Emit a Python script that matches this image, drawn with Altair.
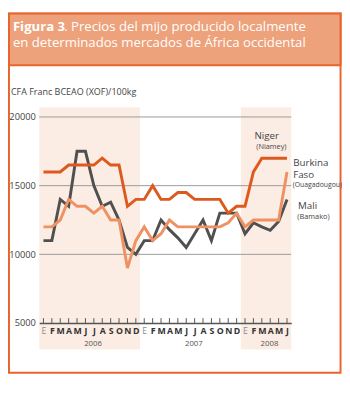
import json
import pandas as pd
import altair as alt

# ---- data ----
MONTHS = ["E", "F", "M", "A", "M", "J", "J", "A", "S", "O", "N", "D"]
YEARS = ["2006", "2007", "2008"]
YEAR_MONTHS = [12, 12, 6]
SHADED = ["2006", "2008"]

NIGER = [16000, 16000, 16000, 16500, 16500, 16500, 16500, 17000, 16500, 16500, 13500, 14000,
         14000, 15000, 14000, 14000, 14500, 14500, 14000, 14000, 14000, 14000, 13000, 13500,
         13500, 16000, 17000, 17000, 17000, 17000]
BURKINA = [12000, 12000, 12500, 14000, 13500, 13500, 13000, 13500, 12500, 12500, 9000, 11000,
           12000, 11000, 11500, 12500, 12000, 12000, 12000, 12000, 12000, 12000, 12300, 13000,
           12000, 12500, 12500, 12500, 12500, 16000]
MALI = [11000, 11000, 14000, 13500, 17500, 17500, 15000, 13500, 13800, 12500, 10500, 10000,
        11000, 11000, 12500, 11800, 11200, 10500, 11500, 12500, 11000, 13000, 13000, 13000,
        11500, 12300, 12000, 11750, 12400, 14000]

Y_TICKS = [5000, 10000, 15000, 20000]
GRID = [10000, 15000, 20000]

TITLE_BOLD = "Figura 3"
TITLE_1 = ". Precios del mijo producido localmente"
TITLE_2 = "en determinados mercados de África occidental"
Y_TITLE = "CFA Franc BCEAO (XOF)/100kg"

# ---- derived tables ----
n = sum(YEAR_MONTHS)
lines = pd.DataFrame({"m": list(range(n)), "niger": NIGER, "burkina": BURKINA, "mali": MALI})

starts = []
s = 0
for k in YEAR_MONTHS:
    starts.append(s)
    s += k
years_df = pd.DataFrame({
    "year": YEARS,
    "s": [st - 0.5 for st in starts],
    "e": [st + k - 0.5 for st, k in zip(starts, YEAR_MONTHS)],
    "mid": [st + (k - 1) / 2 for st, k in zip(starts, YEAR_MONTHS)],
})
bands_df = years_df[years_df["year"].isin(SHADED)]
grid_df = pd.DataFrame({"g": GRID})
one = pd.DataFrame({"a": [0]})

W, H = 258, 211
FONT = "Open Sans"

x_scale = alt.Scale(domain=[-0.5, n - 0.5], nice=False, zero=False)
y_scale = alt.Scale(domain=[5000, 20000], nice=False, zero=False)

x_axis = alt.Axis(
    values=list(range(n)),
    labelExpr=f"{json.dumps(MONTHS)}[datum.value % 12]",
    domainColor="#555555", domainWidth=1.5, ticks=False, grid=False,
    labelPadding=4, labelFont=FONT, labelFontSize=9,
    labelFontWeight={"condition": {"test": "datum.value % 12 == 0", "value": "normal"}, "value": "bold"},
    labelColor={"condition": {"test": "datum.value % 12 == 0", "value": "#8c8c8c"}, "value": "#333333"},
    labelOverlap=False, labelFlush=False, title=None, zindex=1,
)
y_axis = alt.Axis(
    values=Y_TICKS, format="d", domain=False, ticks=False, grid=False,
    labelPadding=4, labelFont=FONT, labelFontSize=9.5, labelColor="#444444", title=None,
)

base = alt.Chart(lines)

# decorations: header and frame
header = alt.Chart(one).mark_rect(fill="#EDA27B").encode(
    x=alt.value(-32), x2=alt.value(310), y=alt.value(-107), y2=alt.value(-53))
frame = alt.Chart(one).mark_rect(fillOpacity=0, stroke="#E8642C", strokeWidth=2).encode(
    x=alt.value(-31), x2=alt.value(308.5), y=alt.value(-106), y2=alt.value(262))
header_line = alt.Chart(one).mark_rule(stroke="#E8642C", strokeWidth=2).encode(
    x=alt.value(-31), x2=alt.value(308.5), y=alt.value(-53))

TS = 13.5
t_bold = alt.Chart(one).mark_text(align="left", baseline="alphabetic", font=FONT, fontSize=TS,
                                  fontWeight="bold", color="white").encode(
    x=alt.value(-27), y=alt.value(-88.5), text=alt.value(TITLE_BOLD))
t_1 = alt.Chart(one).mark_text(align="left", baseline="alphabetic", font=FONT, fontSize=TS,
                               color="white").encode(
    x=alt.value(25.5), y=alt.value(-88.5), text=alt.value(TITLE_1))
t_2 = alt.Chart(one).mark_text(align="left", baseline="alphabetic", font=FONT, fontSize=TS,
                               color="white").encode(
    x=alt.value(-27), y=alt.value(-72), text=alt.value(TITLE_2))
y_title = alt.Chart(one).mark_text(align="left", baseline="alphabetic", font=FONT, fontSize=9.2,
                                   color="#444444").encode(
    x=alt.value(-29), y=alt.value(-22.5), text=alt.value(Y_TITLE))

bands = alt.Chart(bands_df).mark_rect(fill="#FCEDE4").encode(
    x=alt.X("s:Q", scale=x_scale, axis=x_axis), x2="e:Q",
    y=alt.value(-10), y2=alt.value(238))

grid = alt.Chart(grid_df).mark_rule(stroke="#9a9a9a", strokeWidth=1).encode(
    y=alt.Y("g:Q", scale=y_scale, axis=y_axis), x=alt.value(0), x2=alt.value(W))

ticks = base.mark_rule(stroke="#555555", strokeWidth=1).encode(
    x=alt.X("m:Q", scale=x_scale, axis=x_axis), y=alt.value(H), y2=alt.value(H - 5))

def series(field, color):
    return base.mark_line(color=color, strokeWidth=3).encode(
        x=alt.X("m:Q", scale=x_scale, axis=x_axis),
        y=alt.Y(f"{field}:Q", scale=y_scale, axis=y_axis))

mali = series("mali", "#505050")
burkina = series("burkina", "#EE9264")
niger = series("niger", "#DD5A1E")

year_text = alt.Chart(years_df).mark_text(baseline="alphabetic", font=FONT, fontSize=8,
                                          color="#555555", dx=3.5).encode(
    x=alt.X("mid:Q", scale=x_scale, axis=x_axis), y=alt.value(234), text="year:N")

def ann(txt, x, y, size, align="left"):
    return alt.Chart(one).mark_text(align=align, baseline="alphabetic", font=FONT,
                                    fontSize=size, color="#444444").encode(
        x=alt.value(x), y=alt.value(y), text=alt.value(txt))

labels = [
    ann("Niger", 233, 23, 10, "center"),
    ann("(Niamey)", 237.7, 33.3, 7.5, "center"),
    ann("Burkina", 260, 50.3, 10),
    ann("Faso", 260, 62.8, 10),
    ann("(Ouagadougou)", 259.5, 72, 7),
    ann("Mali", 265, 94, 10),
    ann("(Bamako)", 264.3, 104, 7.5),
]

chart = alt.layer(
    header, frame, header_line, t_bold, t_1, t_2, y_title,
    bands, grid, ticks, mali, burkina, niger, year_text, *labels
).properties(
    width=W, height=H,
    autosize=alt.AutoSizeParams(type="none"),
    padding={"left": 32, "top": 107, "right": 52, "bottom": 65},
    background="white",
).configure_view(stroke=None)

chart.save("out.html", embed_options={"renderer": "svg", "actions": False})
